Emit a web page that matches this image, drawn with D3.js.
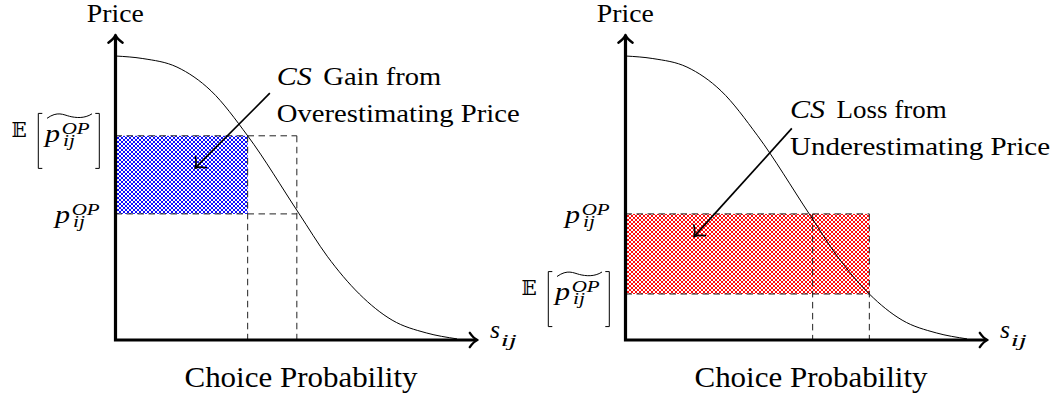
<!DOCTYPE html>
<html><head><meta charset="utf-8">
<script src="https://cdn.jsdelivr.net/npm/d3@7"></script>
<style>html,body{margin:0;padding:0;background:#fff;overflow:hidden}</style>
</head><body><svg id="c" width="1055" height="396"></svg>
<script>
// ---------- data ----------
const panels = ["gain", "loss"];
const curveShare = [0, 0.08, 0.18, 0.28, 0.387, 0.538, 0.62, 0.714, 0.81, 0.91, 1.0];
const curvePrice = [1.0, 0.991, 0.961, 0.877, 0.719, 0.444, 0.295, 0.162, 0.070, 0.025, 0.004];
const truePrice = [0.444, 0.444];
const expectedPrice = [0.719, 0.162];
const trueShare = [0.531, 0.548];
const expectedShare = [0.387, 0.714];
const fillColors = ["#0000ff", "#ff0000"];
const annotationWord = ["Gain from", "Loss from"];
const annotationLine2 = ["Overestimating Price", "Underestimating Price"];
const yAxisTitle = "Price";
const xAxisTitle = "Choice Probability";

// ---------- layout ----------
const panelX = [115.5, 625.5];
const plotW = 341.5, baseY = 340, topY = 56;
const serif = '"Liberation Serif", serif';
const annot = [
  {x: 161.2, y1: 85, y2: 121.7, csW: 35, w1: 118, w2: 243, from: [0.452, 0.869], to: [0.233, 0.605]},
  {x: 164.5, y1: 118.3, y2: 155, csW: 35, w1: 110, w2: 260, from: [0.487, 0.745], to: [0.2006, 0.364]}
];

const svg = d3.select("#c");
const defs = svg.append("defs");

function txt(g, s, x, y, o = {}) {
  const t = g.append("text").attr("x", x).attr("y", y)
    .style("font-family", o.family || serif)
    .style("font-size", (o.fs || 24) + "px")
    .attr("fill", "#000")
    .text(s);
  if (o.italic) t.style("font-style", "italic");
  if (o.anchor) t.attr("text-anchor", o.anchor);
  if (o.len) t.attr("textLength", o.len).attr("lengthAdjust", "spacingAndGlyphs");
  return t;
}

// a symbol with sub/superscripts kept in one text element
function scriptLabel(g, base, sup, sub, x0, yb, fs, o) {
  const t = g.append("text").attr("x", x0).attr("y", yb)
    .style("font-family", serif).style("font-size", fs + "px").style("font-style", "italic").attr("fill", "#000");
  t.append("tspan").text(base).attr("textLength", o.bw).attr("lengthAdjust", "spacingAndGlyphs");
  if (sup) t.append("tspan").text(sup).attr("x", x0 + o.sx).attr("y", yb - o.sup)
    .style("font-size", (fs * 0.7) + "px").attr("textLength", o.supW).attr("lengthAdjust", "spacingAndGlyphs");
  if (sub) t.append("tspan").text(sub).attr("x", x0 + o.bx).attr("y", yb + o.sub)
    .style("font-size", (fs * 0.7) + "px").attr("textLength", o.subW).attr("lengthAdjust", "spacingAndGlyphs");
  return t;
}

function chevron(g, tx, ty, dx, dy, L, sw) {
  const n = Math.hypot(dx, dy); dx /= n; dy /= n;
  const px = -dy, py = dx;
  const a = Math.PI / 4.2;
  const bx = tx - dx * L * Math.cos(a), by = ty - dy * L * Math.cos(a);
  const s = L * Math.sin(a);
  const w1 = [bx + px * s, by + py * s], w2 = [bx - px * s, by - py * s];
  const c1 = [tx - dx * L * 0.35 + px * s * 0.2, ty - dy * L * 0.35 + py * s * 0.2];
  const c2 = [tx - dx * L * 0.35 - px * s * 0.2, ty - dy * L * 0.35 - py * s * 0.2];
  g.append("path")
    .attr("d", `M${w1}Q${c1} ${tx},${ty}Q${c2} ${w2}`)
    .attr("fill", "none").attr("stroke", "#000").attr("stroke-width", sw)
    .attr("stroke-linecap", "round").attr("stroke-linejoin", "round");
}

const pOpts = {bw: 15, sx: 16.7, sup: 8.3, supW: 28, bx: 18, sub: 4.2, subW: 12};

panels.forEach((name, i) => {
  const ox = panelX[i];
  const x = d3.scaleLinear().domain([0, 1]).range([ox, ox + plotW]);
  const y = d3.scaleLinear().domain([0, 1]).range([baseY, topY]);
  const g = svg.append("g").attr("class", "panel-" + name);

  const pat = defs.append("pattern").attr("id", "hatch" + i)
    .attr("patternUnits", "userSpaceOnUse").attr("width", 4).attr("height", 4);
  pat.append("path").attr("d", "M-1,-1L5,5M5,-1L-1,5")
    .attr("stroke", fillColors[i]).attr("stroke-width", 0.95);

  const hi = Math.max(truePrice[i], expectedPrice[i]);
  const lo = Math.min(truePrice[i], expectedPrice[i]);
  const sMax = Math.max(trueShare[i], expectedShare[i]);

  g.append("rect")
    .attr("x", x(0)).attr("y", y(hi))
    .attr("width", x(expectedShare[i]) - x(0))
    .attr("height", y(lo) - y(hi))
    .attr("fill", `url(#hatch${i})`);

  const dash = (x1, y1, x2, y2) => g.append("line")
    .attr("x1", x1).attr("y1", y1).attr("x2", x2).attr("y2", y2)
    .attr("stroke", "#222").attr("stroke-width", 1).attr("stroke-dasharray", "6.5,4.5");
  dash(x(0), y(hi), x(sMax), y(hi));
  dash(x(0), y(lo), x(sMax), y(lo));
  dash(x(expectedShare[i]), y(hi), x(expectedShare[i]), y(0));
  dash(x(trueShare[i]), y(hi), x(trueShare[i]), y(0));

  const line = d3.line().x(d => x(d[0])).y(d => y(d[1])).curve(d3.curveMonotoneX);
  g.append("path").attr("d", line(d3.zip(curveShare, curvePrice)))
    .attr("fill", "none").attr("stroke", "#000").attr("stroke-width", 1);

  // axes
  const yTip = y(1.074), xTip = x(1.06);
  g.append("path")
    .attr("d", `M${x(0)},${yTip + 1.2}L${x(0)},${y(0)}L${xTip - 1.2},${y(0)}`)
    .attr("fill", "none").attr("stroke", "#000").attr("stroke-width", 3.2)
    .attr("stroke-linejoin", "miter");
  chevron(g, x(0), yTip, 0, -1, 10.5, 2.4);
  chevron(g, xTip, y(0), 1, 0, 10.5, 2.4);

  // axis titles
  txt(g, yAxisTitle, ox - 0.2, 21.7, {anchor: "middle", fs: 25, len: 57});
  txt(g, xAxisTitle, ox + 185.5, 387.3, {anchor: "middle", fs: 30, len: 233});
  scriptLabel(g, "s", null, "ij", ox + 374.5, 338.3, 25, {bw: 10, bx: 10.7, sub: 8, subW: 16});

  // price labels
  scriptLabel(g, "p", "OP", "ij", ox - 60.5, y(truePrice[i]) + 9.3, 25, pOpts);
  const ye = y(expectedPrice[i]);
  txt(g, "\u{1D53C}", ox - 104, ye + 1, {family: "'DejaVu Serif','DejaVu Sans'", fs: 20});
  const br = (bx, dir) => g.append("path")
    .attr("d", `M${bx + dir * 4},${ye - 22.4}H${bx}V${ye + 32.6}H${bx + dir * 4}`)
    .attr("fill", "none").attr("stroke", "#000").attr("stroke-width", 1);
  br(ox - 77.2, 1);
  br(ox - 16.2, -1);
  scriptLabel(g, "p", "OP", "ij", ox - 70.5, ye + 6, 25, pOpts);
  g.append("path")
    .attr("d", `M${ox - 68.5},${ye - 17.5}C${ox - 58},${ye - 25} ${ox - 52},${ye - 21} ${ox - 46},${ye - 19.5}S${ox - 31},${ye - 17} ${ox - 23.5},${ye - 22}`)
    .attr("fill", "none").attr("stroke", "#000").attr("stroke-width", 1);

  // annotation
  const a = annot[i];
  txt(g, "CS", ox + a.x, a.y1, {italic: true, fs: 26, len: a.csW});
  txt(g, annotationWord[i], ox + a.x + a.csW + 11.6, a.y1, {fs: 26, len: a.w1});
  txt(g, annotationLine2[i], ox + a.x, a.y2, {fs: 26, len: a.w2});
  const fx = x(a.from[0]), fy = y(a.from[1]), tx = x(a.to[0]), ty = y(a.to[1]);
  g.append("line").attr("x1", fx).attr("y1", fy).attr("x2", tx).attr("y2", ty)
    .attr("stroke", "#000").attr("stroke-width", 1.7);
  chevron(g, tx, ty, tx - fx, ty - fy, 11.5, 1.7);
});
</script></body></html>
